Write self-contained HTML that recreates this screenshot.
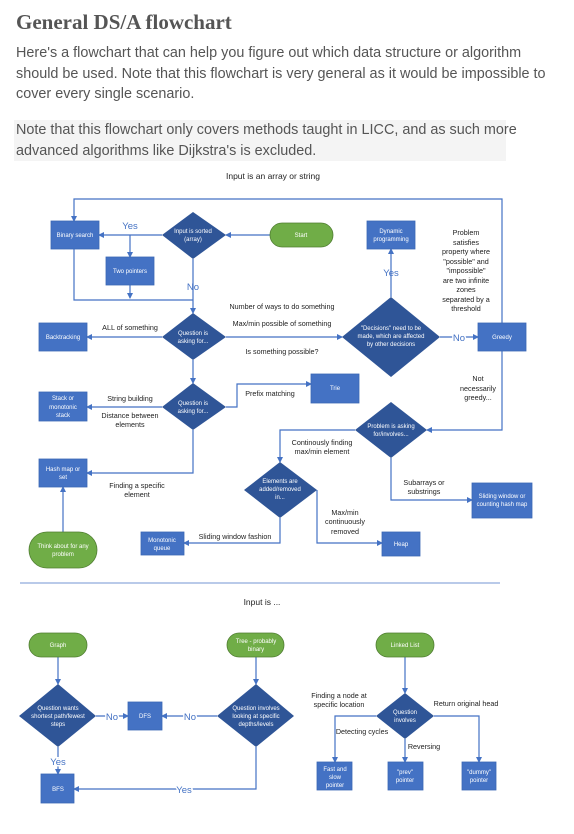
<!DOCTYPE html>
<html><head><meta charset="utf-8"><style>
html,body{margin:0;padding:0;background:#fff;width:574px;height:834px;overflow:hidden}
h1{position:absolute;left:16px;top:10px;margin:0;font-family:"Liberation Serif",serif;font-weight:bold;font-size:21px;color:#555}
.p{position:absolute;left:16px;width:540px;font-family:"Liberation Sans",sans-serif;font-size:14.4px;line-height:20.6px;color:#555}
.note{position:absolute;left:14px;top:120px;width:492px;height:41px;background:#f4f4f4}
svg{position:absolute;left:0;top:0}
</style></head><body>
<h1>General DS/A flowchart</h1>
<div class="p" style="top:43px">Here's a flowchart that can help you figure out which data structure or algorithm should be used. Note that this flowchart is very general as it would be impossible to cover every single scenario.</div>
<div class="note"></div>
<div class="p" style="top:120px;left:16px">Note that this flowchart only covers methods taught in LICC, and as such more advanced algorithms like Dijkstra's is excluded.</div>
<svg width="574" height="834" viewBox="0 0 574 834" font-family="Liberation Sans, sans-serif">
<defs><marker id="a" markerWidth="6" markerHeight="6" refX="5" refY="3" orient="auto" markerUnits="userSpaceOnUse"><path d="M0,0 L6,3 L0,6z" fill="#4472c4"/></marker></defs>
<g fill="none" stroke="#4472c4" stroke-width="1.2">
<path d="M502,323 V199 H74 V221" marker-end="url(#a)"/>
<path d="M270,235 H226" marker-end="url(#a)"/>
<path d="M162,235 H99" marker-end="url(#a)"/>
<path d="M130,235 V257" marker-end="url(#a)"/>
<path d="M74,249 V300 H193"/>
<path d="M130,285 V298" marker-end="url(#a)"/>
<path d="M193,259 V313" marker-end="url(#a)"/>
<path d="M162,337 H87" marker-end="url(#a)"/>
<path d="M226,337 H342" marker-end="url(#a)"/>
<path d="M391,297 V249" marker-end="url(#a)"/>
<path d="M440,337 H478" marker-end="url(#a)"/>
<path d="M502,351 V430 H427" marker-end="url(#a)"/>
<path d="M193,360 V383" marker-end="url(#a)"/>
<path d="M162,407 H87" marker-end="url(#a)"/>
<path d="M226,407 H237 V384 H311" marker-end="url(#a)"/>
<path d="M193,430 V473 H87" marker-end="url(#a)"/>
<path d="M63,532 V487" marker-end="url(#a)"/>
<path d="M355,430 H280 V462" marker-end="url(#a)"/>
<path d="M280,518 V543 H184" marker-end="url(#a)"/>
<path d="M317,490 V543 H382" marker-end="url(#a)"/>
<path d="M391,458 V500 H472" marker-end="url(#a)"/>
<path d="M58,657 V684" marker-end="url(#a)"/>
<path d="M256,657 V684" marker-end="url(#a)"/>
<path d="M405,657 V693" marker-end="url(#a)"/>
<path d="M96,716 H128" marker-end="url(#a)"/>
<path d="M217,716 H162" marker-end="url(#a)"/>
<path d="M58,747 V774" marker-end="url(#a)"/>
<path d="M256,747 V789 H74" marker-end="url(#a)"/>
<path d="M376,716 H335 V762" marker-end="url(#a)"/>
<path d="M405,739 V762" marker-end="url(#a)"/>
<path d="M434,716 H479 V762" marker-end="url(#a)"/>
</g>
<line x1="20" y1="583" x2="500" y2="583" stroke="#8faadc" stroke-width="1.2"/>
<g fill="#4472c4" stroke="#3a67b5" stroke-width="0.8">
<rect x="51" y="221" width="48" height="28"/><rect x="106" y="257" width="48" height="28"/>
<rect x="39" y="323" width="48" height="28"/><rect x="39" y="392" width="48" height="29"/>
<rect x="39" y="459" width="48" height="28"/><rect x="311" y="374" width="48" height="29"/>
<rect x="367" y="221" width="48" height="28"/><rect x="478" y="323" width="48" height="28"/>
<rect x="472" y="483" width="60" height="35"/><rect x="141" y="532" width="43" height="23"/>
<rect x="382" y="532" width="38" height="24"/>
<rect x="128" y="702" width="34" height="28"/><rect x="41" y="774" width="33" height="29"/>
<rect x="317" y="762" width="35" height="28"/><rect x="388" y="762" width="35" height="28"/><rect x="462" y="762" width="34" height="28"/>
</g>
<g fill="#2f5597">
<path d="M193,212 L226,235 L193,259 L162,235z"/>
<path d="M193,313 L226,337 L193,360 L162,337z"/>
<path d="M193,383 L226,407 L193,430 L162,407z"/>
<path d="M391,297 L440,337 L391,377 L342,337z"/>
<path d="M391,402 L427,430 L391,458 L355,430z"/>
<path d="M280,462 L317,490 L280,518 L244,490z"/>
<path d="M58,684 L96,716 L58,747 L19,716z"/>
<path d="M256,684 L294,716 L256,747 L217,716z"/>
<path d="M405,693 L434,716 L405,739 L376,716z"/>
</g>
<g fill="#70ad47" stroke="#507e32" stroke-width="0.8">
<rect x="270" y="223" width="63" height="24" rx="12"/>
<rect x="29" y="532" width="68" height="36" rx="18"/>
<rect x="29" y="633" width="58" height="24" rx="12"/>
<rect x="227" y="633" width="57" height="24" rx="12"/>
<rect x="376" y="633" width="58" height="24" rx="12"/>
</g>
<g fill="#fff" font-size="6" text-anchor="middle">
<text x="75" y="237">Binary search</text>
<text x="130" y="273">Two pointers</text>
<text x="193" y="233">Input is sorted</text><text x="193" y="241">(array)</text>
<text x="301" y="237">Start</text>
<text x="63" y="339">Backtracking</text>
<text x="193" y="335">Question is</text><text x="193" y="343">asking for...</text>
<text x="193" y="405">Question is</text><text x="193" y="413">asking for...</text>
<text x="63" y="400">Stack or</text><text x="63" y="409">monotonic</text><text x="63" y="417">stack</text>
<text x="63" y="471">Hash map or</text><text x="63" y="479">set</text>
<text x="63" y="548">Think about for any</text><text x="63" y="556">problem</text>
<text x="335" y="390">Trie</text>
<text x="391" y="233">Dynamic</text><text x="391" y="241">programming</text>
<text x="391" y="330">"Decisions" need to be</text><text x="391" y="338">made, which are affected</text><text x="391" y="346">by other decisions</text>
<text x="502" y="339">Greedy</text>
<text x="391" y="428">Problem is asking</text><text x="391" y="436">for/involves...</text>
<text x="280" y="483">Elements are</text><text x="280" y="491">added/removed</text><text x="280" y="499">in...</text>
<text x="502" y="498">Sliding window or</text><text x="502" y="506">counting hash map</text>
<text x="162" y="542">Monotonic</text><text x="162" y="550">queue</text>
<text x="401" y="546">Heap</text>
<text x="58" y="647">Graph</text>
<text x="256" y="643">Tree - probably</text><text x="256" y="651">binary</text>
<text x="405" y="647">Linked List</text>
<text x="58" y="710">Question wants</text><text x="58" y="718">shortest path/fewest</text><text x="58" y="726">steps</text>
<text x="256" y="710">Question involves</text><text x="256" y="718">looking at specific</text><text x="256" y="726">depths/levels</text>
<text x="145" y="718">DFS</text><text x="58" y="791">BFS</text>
<text x="405" y="714">Question</text><text x="405" y="722">involves</text>
<text x="335" y="771">Fast and</text><text x="335" y="779">slow</text><text x="335" y="787">pointer</text>
<text x="405" y="774">"prev"</text><text x="405" y="782">pointer</text>
<text x="479" y="774">"dummy"</text><text x="479" y="782">pointer</text>
</g>
<g fill="#222" font-size="7.2" text-anchor="middle">
<text x="273" y="179" font-size="8.5">Input is an array or string</text>
<text x="262" y="605" font-size="8.5">Input is ...</text>
<text x="130" y="330">ALL of something</text>
<text x="282" y="309">Number of ways to do something</text>
<text x="282" y="326">Max/min possible of something</text>
<text x="282" y="354">Is something possible?</text>
<text x="130" y="401">String building</text>
<text x="130" y="418">Distance between</text><text x="130" y="427">elements</text>
<text x="270" y="396">Prefix matching</text>
<text x="137" y="488">Finding a specific</text><text x="137" y="497">element</text>
<text x="466" y="235">Problem</text><text x="466" y="245">satisfies</text><text x="466" y="254">property where</text><text x="466" y="264">"possible" and</text><text x="466" y="273">"impossible"</text><text x="466" y="283">are two infinite</text><text x="466" y="292">zones</text><text x="466" y="302">separated by a</text><text x="466" y="311">threshold</text>
<text x="478" y="381">Not</text><text x="478" y="391">necessarily</text><text x="478" y="400">greedy...</text>
<text x="322" y="445">Continously finding</text><text x="322" y="454">max/min element</text>
<text x="424" y="485">Subarrays or</text><text x="424" y="494">substrings</text>
<text x="235" y="539">Sliding window fashion</text>
<text x="345" y="515">Max/min</text><text x="345" y="524">continuously</text><text x="345" y="534">removed</text>
<text x="339" y="698">Finding a node at</text><text x="339" y="707">specific location</text>
<text x="362" y="734">Detecting cycles</text>
<text x="424" y="749">Reversing</text>
<text x="466" y="706">Return original head</text>
</g>
<g fill="#4472c4" font-size="9.5" text-anchor="middle">
<text x="130" y="229">Yes</text>
<text x="193" y="290">No</text>
<text x="391" y="276">Yes</text>
<text x="459" y="341" style="paint-order:stroke" stroke="#fff" stroke-width="3">No</text>
<text x="112" y="720" style="paint-order:stroke" stroke="#fff" stroke-width="3">No</text>
<text x="190" y="720" style="paint-order:stroke" stroke="#fff" stroke-width="3">No</text>
<text x="58" y="765" style="paint-order:stroke" stroke="#fff" stroke-width="3">Yes</text>
<text x="184" y="793" style="paint-order:stroke" stroke="#fff" stroke-width="3">Yes</text>
</g>
</svg>
</body></html>
